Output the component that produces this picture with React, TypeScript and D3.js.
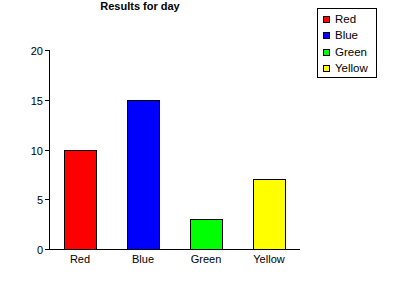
import React, { useEffect, useRef } from "react";
import * as d3 from "d3";

const categories = ["Red", "Blue", "Green", "Yellow"];
const values = [10, 15, 3, 7];
const colors = ["#ff0000", "#0000ff", "#00ff00", "#ffff00"];
const yTicks = [0, 5, 10, 15, 20];
const title = "Results for day";

const W = 395;
const H = 297;
const FONT = "'Liberation Sans', Arial, sans-serif";

export default function App() {
  const ref = useRef<SVGSVGElement>(null);

  useEffect(() => {
    const svg = d3.select(ref.current);
    svg.selectAll("*").remove();

    const left = 49;
    const right = 300;
    const top = 50;
    const bottom = 249;

    const x = d3.scaleBand().domain(categories).range([left - 0.5, right + 0.5]).paddingInner(0.5).paddingOuter(0.25);
    const y = d3.scaleLinear().domain([0, 20]).range([bottom, top]);

    svg.append("rect").attr("width", W).attr("height", H).attr("fill", "#fff");

    // title
    svg.append("text")
      .attr("x", 140).attr("y", 10)
      .attr("text-anchor", "middle")
      .attr("font-family", FONT).attr("font-size", 11).attr("font-weight", "bold")
      .text(title);

    // bars
    svg.selectAll("rect.bar").data(values).enter().append("rect")
      .attr("class", "bar")
      .attr("x", (_, i) => Math.round(x(categories[i])!) + 0.5)
      .attr("y", (d) => Math.round(y(d)) + 0.5)
      .attr("width", Math.round(x.bandwidth()))
      .attr("height", (d) => Math.round(y(0)) - Math.round(y(d)))
      .attr("fill", (_, i) => colors[i])
      .attr("stroke", "#000").attr("stroke-width", 1);

    // y axis
    const g = svg.append("g");
    g.append("line").attr("x1", left + 0.5).attr("x2", left + 0.5).attr("y1", top).attr("y2", bottom + 1)
      .attr("stroke", "#000");
    yTicks.forEach((t) => {
      const yy = Math.round(y(t)) + 0.5;
      g.append("line").attr("x1", left - 4).attr("x2", left).attr("y1", yy).attr("y2", yy).attr("stroke", "#000");
      g.append("text").attr("x", left - 6).attr("y", yy + 4)
        .attr("text-anchor", "end").attr("font-family", FONT).attr("font-size", 11)
        .text(String(t));
    });

    // x axis
    svg.append("line").attr("x1", left).attr("x2", right).attr("y1", bottom + 0.5).attr("y2", bottom + 0.5)
      .attr("stroke", "#000");
    categories.forEach((c) => {
      svg.append("text")
        .attr("x", x(c)! + x.bandwidth() / 2).attr("y", 263)
        .attr("text-anchor", "middle").attr("font-family", FONT).attr("font-size", 11)
        .text(c);
    });

    // legend
    const lg = svg.append("g");
    lg.append("rect").attr("x", 317.5).attr("y", 8.5).attr("width", 59).attr("height", 69)
      .attr("fill", "#fff").attr("stroke", "#000");
    categories.forEach((c, i) => {
      const cy = 19 + i * 16.3;
      lg.append("rect").attr("x", 323.5).attr("y", Math.round(cy - 3) + 0.5).attr("width", 6).attr("height", 6)
        .attr("fill", colors[i]).attr("stroke", "#000");
      lg.append("text").attr("x", 335).attr("y", cy + 4)
        .attr("font-family", FONT).attr("font-size", 11.5).text(c);
    });
  }, []);

  return (
    <svg ref={ref} width={W} height={H} style={{ position: "absolute", left: 0, top: 0, display: "block" }} />
  );
}
